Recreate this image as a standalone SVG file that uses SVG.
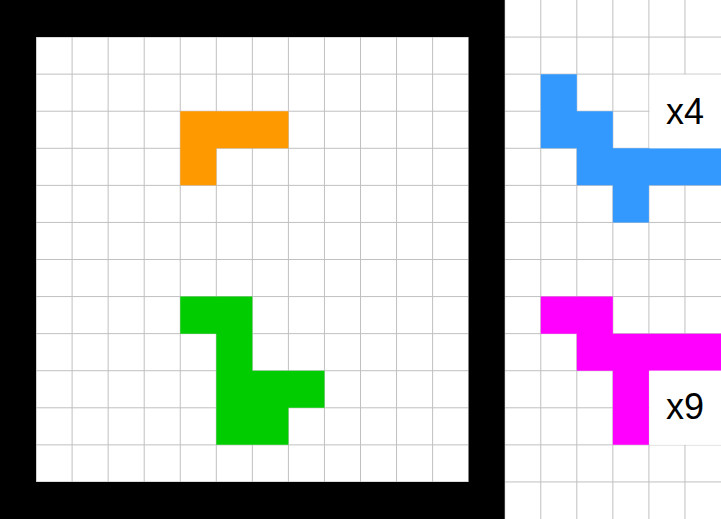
<svg xmlns="http://www.w3.org/2000/svg" width="721" height="519" viewBox="0 0 721 519">
<style>
.grid{stroke:#c0c0c0;stroke-width:1;fill:none}
.lbl{font-family:"Liberation Sans",Arial,sans-serif;font-size:36px;fill:#000;text-anchor:middle}
.box{fill:#fff}
</style>
<rect x="0" y="0" width="721" height="519" fill="#fff"/>
<g id="grid">
<path class="grid" d="M36.05 0V519M72.1 0V519M108.15 0V519M144.2 0V519M180.25 0V519M216.3 0V519M252.35 0V519M288.4 0V519M324.45 0V519M360.5 0V519M396.55 0V519M432.6 0V519M468.65 0V519M504.7 0V519M540.75 0V519M576.8 0V519M612.85 0V519M648.9 0V519M684.95 0V519M0 37.07H721M0 74.14H721M0 111.21H721M0 148.29H721M0 185.36H721M0 222.43H721M0 259.5H721M0 296.57H721M0 333.64H721M0 370.71H721M0 407.79H721M0 444.86H721M0 481.93H721"/>
</g>
<g id="border">
<path fill="#000" fill-rule="evenodd" d="M0 0H504.7V519H0Z M36.05 37.07V481.93H468.65V37.07Z"/>
</g>
<g id="piece-orange">
<polygon fill="#ff9900" points="180.25,111.21 288.4,111.21 288.4,148.29 216.3,148.29 216.3,185.36 180.25,185.36"/>
</g>
<g id="piece-green">
<polygon fill="#00cc00" points="180.25,296.57 252.35,296.57 252.35,370.71 324.45,370.71 324.45,407.79 288.4,407.79 288.4,444.86 216.3,444.86 216.3,333.64 180.25,333.64"/>
</g>
<g id="piece-blue">
<polygon fill="#3399ff" points="540.75,74.14 576.8,74.14 576.8,111.21 612.85,111.21 612.85,148.29 721,148.29 721,185.36 648.9,185.36 648.9,222.43 612.85,222.43 612.85,185.36 576.8,185.36 576.8,148.29 540.75,148.29"/>
</g>
<g id="piece-magenta">
<polygon fill="#ff00ff" points="540.75,296.57 612.85,296.57 612.85,333.64 721,333.64 721,370.71 648.9,370.71 648.9,444.86 612.85,444.86 612.85,370.71 576.8,370.71 576.8,333.64 540.75,333.64"/>
</g>
<g id="label-x4">
<rect class="box" x="649.4" y="74.64" width="71.6" height="73.65"/>
<text class="lbl" x="685" y="124">x4</text>
</g>
<g id="label-x9">
<rect class="box" x="649.4" y="370.71" width="71.6" height="74.15"/>
<text class="lbl" x="685" y="419">x9</text>
</g>
</svg>
